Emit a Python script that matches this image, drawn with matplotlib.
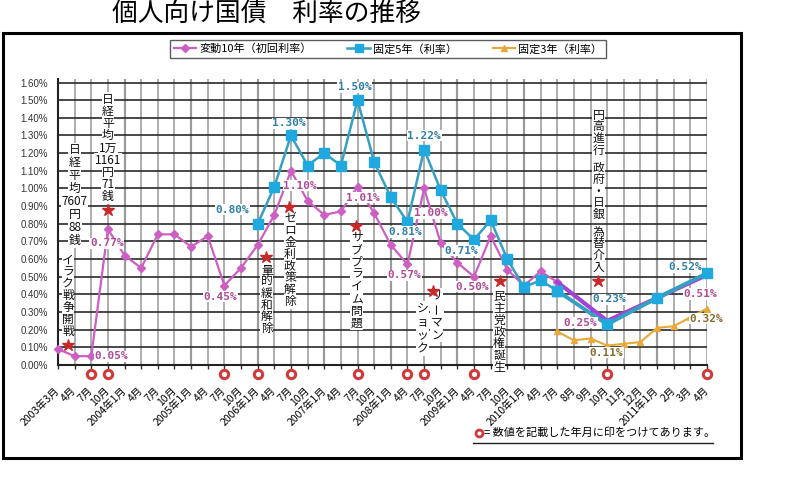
import numpy as np
import matplotlib
matplotlib.use('Agg')
import matplotlib.pyplot as plt
from matplotlib.lines import Line2D
from matplotlib.patches import Rectangle
from matplotlib.transforms import blended_transform_factory

plt.rcParams['font.family'] = ['Noto Sans CJK JP', 'DejaVu Sans']

# ---- data ----
months = ['2003年3月', '4月', '7月', '10月',
          '2004年1月', '4月', '7月', '10月',
          '2005年1月', '4月', '7月', '10月',
          '2006年1月', '4月', '7月', '10月',
          '2007年1月', '4月', '7月', '10月',
          '2008年1月', '4月', '7月', '10月',
          '2009年1月', '4月', '7月', '10月',
          '2010年1月', '4月', '7月', '8月', '9月', '10月', '11月', '12月',
          '2011年1月', '2月', '3月', '4月']

nan = np.nan
hendo10 = [0.09, 0.05, 0.05, 0.77, 0.62, 0.55, 0.74, 0.74, 0.67, 0.73, 0.45, 0.55,
           0.68, 0.85, 1.10, 0.93, 0.85, 0.87, 1.01, 0.86, 0.68, 0.57, 1.00, 0.69,
           0.58, 0.50, 0.73, 0.54, 0.45, 0.53, 0.47, nan, nan, 0.25, nan, nan,
           nan, nan, nan, 0.51]
kotei5 = [nan] * 12 + [0.80, 1.01, 1.30, 1.13, 1.20, 1.13, 1.50, 1.15, 0.95, 0.81,
                       1.22, 0.99, 0.80, 0.71, 0.82, 0.60, 0.44, 0.48, 0.42, nan,
                       nan, 0.23, nan, nan, 0.38, nan, nan, 0.52]
kotei3 = [nan] * 30 + [0.19, 0.14, 0.15, 0.11, 0.12, 0.13, 0.21, 0.22, 0.27, 0.32]

series_names = ['変動10年（初回利率）', '固定5年（利率）', '固定3年（利率）']

# months whose values are written on the chart (red rings)
marked_idx = [2, 3, 10, 12, 14, 18, 21, 22, 25, 33, 39]

# events: rows of vertical text, star position (index, value), text start (index, value)
events = [
    (['日', '経', '平', '均', '7607', '円', '88', '銭'], None, (1.0, 1.22), 13.0),
    (list('イラク戦争開戦'), (0.6, 0.113), (0.6, 0.595), 11.9),
    (['日', '経', '平', '均', '1万', '1161', '円', '71', '銭'], (3.0, 0.878), (3.0, 1.505), 12.2),
    (list('量的緩和解除'), (12.5, 0.61), (12.55, 0.538), 11.7),
    (list('ゼロ金利政策解除'), (13.9, 0.897), (13.94, 0.831), 11.9),
    (list('サブプライム問題'), (17.9, 0.79), (17.95, 0.723), 12.3),
    (list('リーマン'), (22.52, 0.419), (22.76, 0.396), 13.3),
    (list('ショック'), None, (21.92, 0.321), 13.7),
    (list('民主党政権誕生'), (26.56, 0.476), (26.5, 0.387), 11.8),
    (list('円高進行 政府・日銀 為替介入'), (32.47, 0.476), (32.47, 1.416), 11.7),
]

# value labels: (series, index, dx px, dy px down)
value_labels = [
    ('p', 2, 20, 0), ('p', 3, -1, 14), ('p', 10, -4, 11), ('b', 12, -25, -14),
    ('b', 14, -2, -12), ('p', 14, 9, 15), ('b', 18, -3, -13), ('p', 18, 5, 11),
    ('b', 22, 0, -14), ('b', 21, -2, 10), ('p', 22, 7, 25), ('p', 21, -3, 11),
    ('b', 25, -13, 11), ('p', 25, -2, 10), ('b', 33, 2, -25), ('p', 33, -27, 2),
    ('o', 33, -1, 7), ('b', 39, -22, -6), ('p', 39, -7, 19), ('o', 39, -1, 10),
]

PURPLE = '#cc5ec4'
VIOLET = '#a243d6'
BLUE = '#35a0c2'
BLUE_M = '#1fa9de'
ORANGE = '#e9a93a'
STAR = '#c8282a'
lab_col = {'p': '#b04a98', 'b': '#2f7ea6', 'o': '#8a6a2e'}

x = np.arange(len(months))
h = np.array(hendo10)
k5 = np.array(kotei5)
k3 = np.array(kotei3)
vals = {'p': h, 'b': k5, 'o': k3}

fig = plt.figure(figsize=(8, 4.8), dpi=100)
ax = fig.add_axes([58 / 800, 115 / 480, 649 / 800, 286 / 480])

# grid
ax.set_xlim(0, len(months) - 1)
ax.set_ylim(0, 1.62)
ax.set_yticks(np.arange(0, 1.61, 0.1))
ax.set_yticklabels(['%.2f%%' % t for t in np.arange(0, 1.61, 0.1)],
                   fontsize=7, color='#333333', family='Liberation Sans')
ax.set_xticks(x)
ax.set_xticklabels(months, rotation=45, ha='right', va='center',
                   rotation_mode='anchor', fontsize=7.5)
ax.tick_params(axis='y', length=0, pad=7)
ax.tick_params(axis='x', length=3, width=1, pad=14, color='#333333')
ax.yaxis.grid(True, color='#2a2a2a', lw=1.2)
ax.xaxis.grid(True, color='#a8a8a8', lw=1.3)
ax.set_axisbelow(True)
for i, m in enumerate(months):
    if '年' in m and i > 0:
        ax.axvline(i, color='#222222', lw=1.5, zorder=0.5)
for s in ['top', 'right']:
    ax.spines[s].set_visible(False)
ax.spines['left'].set_color('#222222')
ax.spines['left'].set_linewidth(1.5)
ax.spines['bottom'].set_color('#222222')
ax.spines['bottom'].set_linewidth(1.5)

# 変動10年
m = ~np.isnan(h)
main = m & (x <= 30)
tail = m & (x >= 30)
ax.plot(x[main], h[main], color=PURPLE, lw=1.6, marker='D', ms=4.5,
        mfc=PURPLE, mec=PURPLE, zorder=3, clip_on=False)
ax.plot(x[tail], h[tail], color=VIOLET, lw=3, zorder=3, clip_on=False)

# 固定5年
m = ~np.isnan(k5)
main = m & (x <= 30)
tail = m & (x >= 30)
ax.plot(x[main], k5[main], color=BLUE, lw=1.8, marker='s', ms=7,
        mfc=BLUE_M, mec=BLUE_M, zorder=4, clip_on=False)
ax.plot(x[tail], k5[tail], color=BLUE, lw=2.8, marker='s', ms=7,
        mfc=BLUE_M, mec=BLUE_M, zorder=4, clip_on=False)

# 固定3年
m = ~np.isnan(k3)
ax.plot(x[m], k3[m], color=ORANGE, lw=1.5, marker='^', ms=4.5,
        mfc=ORANGE, mec=ORANGE, zorder=3, clip_on=False)

# value labels
for s, i, dx, dy in value_labels:
    v = vals[s][i]
    ax.annotate('%.2f%%' % v, (i, v), xytext=(dx, -dy), textcoords='offset pixels',
                ha='center', va='center', fontsize=8, fontweight='bold',
                family='DejaVu Sans Mono', color=lab_col[s], zorder=6,
                bbox=dict(fc='white', ec='none', pad=0.4))

# events
for rows, star, start, step in events:
    if star is not None:
        ax.plot(star[0], star[1], marker='*', ms=9, color=STAR, mec=STAR,
                zorder=7, clip_on=False)
    off = 0.0
    for r in rows:
        if r == ' ':
            off += step * 0.5
            continue
        ax.annotate(r, start, xytext=(0, -off), textcoords='offset pixels',
                    ha='center', va='center', fontsize=8.5,
                    rotation=90 if r == 'ー' else 0, color='#111111', zorder=6,
                    annotation_clip=False,
                    bbox=dict(fc='white', ec='none', pad=0.3))
        off += step

# red rings under the marked months
trans = blended_transform_factory(ax.transData, ax.transAxes)
ax.plot(marked_idx, [-0.031] * len(marked_idx), 'o', ms=6, mfc='white',
        mec='#d03a3a', mew=2.2, transform=trans, clip_on=False, zorder=8)

# legend
handles = [Line2D([], [], color=PURPLE, lw=1.6, marker='D', ms=4, mfc=PURPLE, mec=PURPLE),
           Line2D([], [], color=BLUE, lw=1.8, marker='s', ms=6, mfc=BLUE_M, mec=BLUE_M),
           Line2D([], [], color=ORANGE, lw=1.5, marker='^', ms=4.5, mfc=ORANGE, mec=ORANGE)]
leg = ax.legend(handles, series_names, loc='center', ncol=3,
                bbox_to_anchor=(388 / 800, 1 - 49 / 480), bbox_transform=fig.transFigure,
                fontsize=8, frameon=True, fancybox=False, edgecolor='#333333',
                handlelength=2.0, handletextpad=0.3, columnspacing=3.2,
                borderpad=0.35)
leg.get_frame().set_linewidth(1.0)

# title
fig.text(267 / 800, 1 - 15 / 480, '個人向け国債　利率の推移', ha='center', va='center',
         fontsize=18.5)

# footnote
fig.add_artist(Line2D([479 / 800], [1 - 433 / 480], marker='o', ms=5, mfc='white',
                      mec='#d03a3a', mew=2, transform=fig.transFigure))
fig.text(484 / 800, 1 - 433 / 480, '= 数値を記載した年月に印をつけてあります。',
         ha='left', va='center', fontsize=8)
fig.add_artist(Line2D([473 / 800, 713 / 800], [1 - 443 / 480, 1 - 443 / 480],
                      color='#222222', lw=1, transform=fig.transFigure))

# outer frame
fig.add_artist(Rectangle((3 / 800, 1 - 458 / 480), 738 / 800, 425 / 480,
                         transform=fig.transFigure, fill=False, lw=2.2,
                         ec='black'))

fig.savefig('out.png', dpi=100)
